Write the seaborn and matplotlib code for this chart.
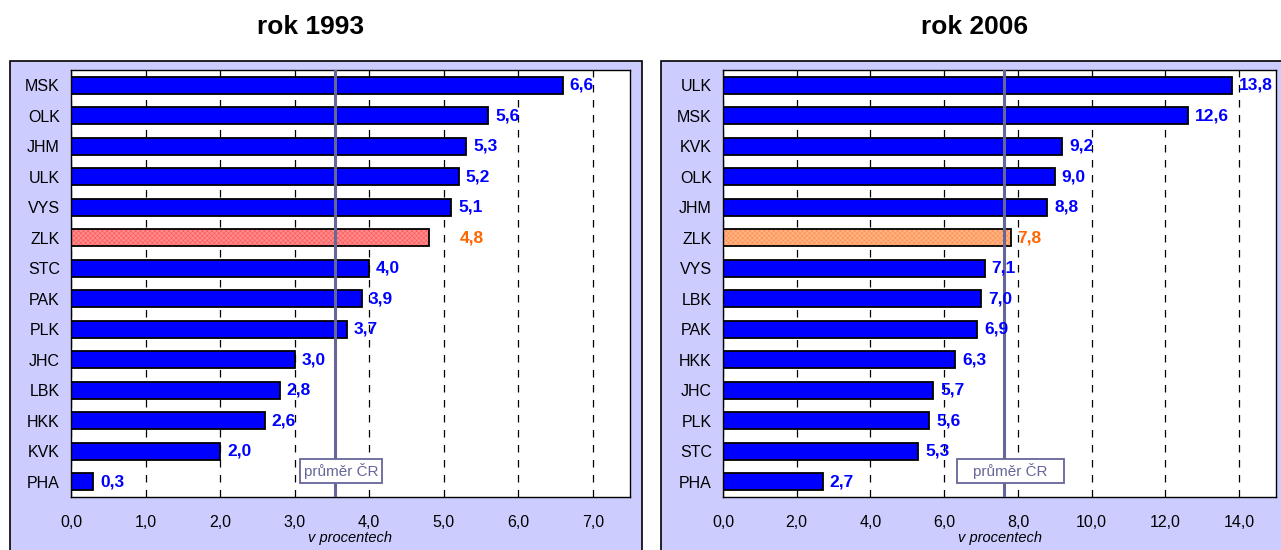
import matplotlib

matplotlib.use("Agg")
import matplotlib.pyplot as plt
import numpy as np
import pandas as pd
import seaborn as sns
from matplotlib.patches import Rectangle
from matplotlib.ticker import FixedLocator, FuncFormatter, MultipleLocator

# --- data ---
regions_1993 = ["MSK", "OLK", "JHM", "ULK", "VYS", "ZLK", "STC", "PAK", "PLK", "JHC", "LBK", "HKK", "KVK", "PHA"]
values_1993 = [6.6, 5.6, 5.3, 5.2, 5.1, 4.8, 4.0, 3.9, 3.7, 3.0, 2.8, 2.6, 2.0, 0.3]
avg_1993 = 3.54

regions_2006 = ["ULK", "MSK", "KVK", "OLK", "JHM", "ZLK", "VYS", "LBK", "PAK", "HKK", "JHC", "PLK", "STC", "PHA"]
values_2006 = [13.8, 12.6, 9.2, 9.0, 8.8, 7.8, 7.1, 7.0, 6.9, 6.3, 5.7, 5.6, 5.3, 2.7]
avg_2006 = 7.61

highlight = "ZLK"
avg_label = "průměr ČR"
x_label = "v procentech"

BLUE = "#0000FF"
ORANGE_TXT = "#FF6600"
AVG_COL = "#666699"
PANEL_BG = "#CCCCFF"


def fmt_cz(v, _pos=None):
    return f"{v:.1f}".replace(".", ",")


def draw_panel(fig, rect, regions, values, avg, xmax, step, hl_face, hl_hatch, box_off, hl_dx):
    ax = fig.add_axes(rect)
    df = pd.DataFrame({"region": regions, "value": values})
    palette = {r: (hl_face if r == highlight else BLUE) for r in regions}
    sns.barplot(
        data=df,
        x="value",
        y="region",
        hue="region",
        palette=palette,
        order=regions,
        orient="h",
        legend=False,
        saturation=1,
        width=0.55,
        edgecolor="black",
        linewidth=1.3,
        ax=ax,
        zorder=2,
    )

    # hatched highlight bar: recolour the hatch, then redraw a black outline
    hl_idx = regions.index(highlight)
    patch = ax.patches[hl_idx]
    patch.set_hatch("xxxxxxx")
    patch.set_edgecolor(hl_hatch)
    patch.set_linewidth(0)
    ax.add_patch(
        Rectangle(
            (patch.get_x(), patch.get_y()),
            patch.get_width(),
            patch.get_height(),
            fill=False,
            edgecolor="black",
            linewidth=1.3,
            zorder=3,
        )
    )

    ax.set_xlim(0, xmax)
    ax.set_ylim(len(regions) - 0.5, -0.5)
    ax.xaxis.set_major_locator(MultipleLocator(step))
    ax.xaxis.set_major_formatter(FuncFormatter(fmt_cz))
    ax.xaxis.grid(True, color="black", linewidth=0.9, linestyle=(0, (6, 6)))
    ax.yaxis.grid(False)
    ax.set_axisbelow(True)

    ax.yaxis.set_minor_locator(FixedLocator(np.arange(len(regions) + 1) - 0.5))
    ax.tick_params(axis="y", which="major", length=0, pad=8, labelsize=11.5, labelcolor="black")
    ax.tick_params(axis="y", which="minor", length=5, width=1, color="black", direction="out")
    ax.tick_params(axis="x", which="major", length=5, width=1, color="black", direction="out",
                   labelsize=11.5, labelcolor="black", pad=8)
    ax.set_xlabel(x_label, fontsize=10.5, style="italic", labelpad=1, color="black")
    ax.set_ylabel("")
    ax.set_facecolor("white")
    for sp in ax.spines.values():
        sp.set_visible(True)
        sp.set_color("black")
        sp.set_linewidth(1.0)

    # value labels
    for i, (r, v) in enumerate(zip(regions, values)):
        is_hl = r == highlight
        ax.annotate(
            fmt_cz(v),
            xy=(v, i),
            xytext=(5 + (hl_dx if is_hl else 0), 0),
            textcoords="offset points",
            ha="left",
            va="center",
            fontsize=12.5,
            fontweight="bold",
            color=ORANGE_TXT if is_hl else BLUE,
            zorder=5,
        )

    # national average line with its label box
    ax.axvline(avg, color=AVG_COL, linewidth=2.2, zorder=4)
    bx0, bx1, by0, by1 = avg + box_off[0], avg + box_off[1], 12.25, 13.04
    ax.add_patch(
        Rectangle((bx0, by0), bx1 - bx0, by1 - by0, facecolor="white", edgecolor=AVG_COL, linewidth=1.3, zorder=6)
    )
    ax.text((bx0 + bx1) / 2, (by0 + by1) / 2, avg_label, ha="center", va="center", fontsize=11, color=AVG_COL, zorder=7)
    return ax


def main() -> None:
    sns.set_theme(style="white")
    plt.rcParams["font.family"] = ["Liberation Sans", "DejaVu Sans"]
    plt.rcParams["hatch.linewidth"] = 0.4
    plt.rcParams["text.color"] = "black"

    W, H = 1281, 550
    fig = plt.figure(figsize=(W / 100, H / 100), dpi=100)
    fig.patch.set_facecolor("white")

    # lavender panel frames
    for x0, x1 in [(10, 642), (661, 1300)]:
        fig.add_artist(
            Rectangle(
                (x0 / W, -0.05),
                (x1 - x0) / W,
                (H - 61) / H + 0.05,
                transform=fig.transFigure,
                facecolor=PANEL_BG,
                edgecolor="black",
                linewidth=1.2,
                zorder=0,
            )
        )

    bottom = (H - 497) / H
    height = (497 - 70) / H
    draw_panel(
        fig, [71 / W, bottom, (630 - 71) / W, height],
        regions_1993, values_1993, avg_1993, 7.5, 1.0,
        "#FF8C8C", "#FF5555", (-0.47, 0.63), 17,
    )
    draw_panel(
        fig, [723 / W, bottom, (1276 - 723) / W, height],
        regions_2006, values_2006, avg_2006, 15.0, 2.0,
        "#FFB482", "#FF8C50", (-1.25, 1.63), 0,
    )

    fig.text(311 / W, 1 - 27 / H, "rok 1993", ha="center", va="center", fontsize=19, fontweight="bold", color="black")
    fig.text(975 / W, 1 - 27 / H, "rok 2006", ha="center", va="center", fontsize=19, fontweight="bold", color="black")

    fig.savefig("out.png", dpi=100)
    plt.close(fig)


if __name__ == "__main__":
    main()
